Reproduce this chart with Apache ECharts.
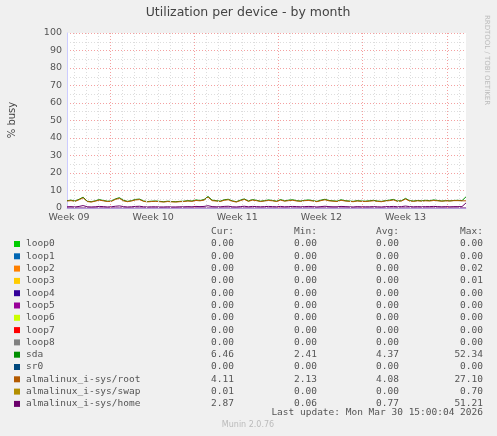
<!DOCTYPE html><html><head><meta charset="utf-8">
<script src="https://cdn.jsdelivr.net/npm/echarts@6/dist/echarts.min.js"></script>
<style>html,body{margin:0;background:#f0f0f0}#c{width:497px;height:436px}</style></head><body><div id="c"></div>
<script>
const weekLabels=['Week 09','Week 10','Week 11','Week 12','Week 13'];
const weekLabelPos=[0.17,7.17,14.17,21.17,28.17];
const redLines=[3.6,10.6,17.6,24.6,31.6];
const sda=[4.2,4.5,4.0,5.0,6.2,3.9,3.6,4.1,4.8,4.3,3.9,4.0,5.2,5.9,4.4,3.8,4.2,4.9,5.1,4.0,
3.7,3.9,4.0,3.8,3.6,3.9,3.7,3.6,3.8,3.9,4.2,4.0,4.6,4.3,4.8,6.6,4.5,4.2,3.9,4.7,
5.0,4.1,3.6,4.5,5.2,4.0,4.8,4.4,3.9,4.2,4.6,4.3,3.9,4.8,4.1,4.5,4.7,4.2,4.0,4.4,
4.6,4.2,3.8,4.5,5.0,4.3,4.1,3.9,4.7,4.2,4.0,3.8,4.2,4.0,3.9,4.1,4.4,4.0,3.8,4.2,
4.5,4.9,4.0,4.2,5.5,4.2,4.0,4.3,4.1,4.4,4.2,4.6,4.3,4.0,4.2,4.1,4.3,4.4,4.2,6.4];
const root=[4.0,4.2,3.8,4.7,5.8,3.7,3.4,3.9,4.5,4.1,3.7,3.8,4.9,5.5,4.1,3.6,4.0,4.6,4.8,3.8,
3.5,3.7,3.8,3.6,3.4,3.7,3.5,3.4,3.6,3.7,4.0,3.8,4.3,4.1,4.5,6.2,4.2,4.0,3.7,4.4,
4.7,3.9,3.4,4.2,4.9,3.8,4.5,4.2,3.7,4.0,4.3,4.1,3.7,4.5,3.9,4.2,4.4,4.0,3.8,4.2,
4.3,4.0,3.6,4.2,4.7,4.1,3.9,3.7,4.4,4.0,3.8,3.6,4.0,3.8,3.7,3.9,4.1,3.8,3.6,4.0,
4.2,4.6,3.8,4.0,5.1,4.0,3.8,4.1,3.9,4.1,4.0,4.3,4.1,3.9,4.1,4.0,4.2,4.2,4.1,4.1];
const home=[0.7,0.8,0.6,0.9,1.4,0.7,0.6,0.7,0.9,0.8,0.6,0.7,1.0,1.2,0.8,0.6,0.7,0.9,1.0,0.7,
0.6,0.7,0.7,0.6,0.6,0.7,0.6,0.6,0.7,0.7,0.8,0.7,0.9,0.8,0.9,1.3,0.8,0.7,0.7,0.9,
1.0,0.7,0.6,0.8,1.0,0.7,0.9,0.8,0.7,0.8,0.9,0.8,0.7,0.9,0.7,0.8,0.9,0.8,0.7,0.8,
0.9,0.8,0.6,0.8,1.0,0.8,0.7,0.7,0.9,0.8,0.7,0.6,0.8,0.7,0.7,0.7,0.8,0.7,0.6,0.8,
0.8,0.9,0.7,0.8,1.1,0.8,0.7,0.8,0.7,0.8,0.8,0.9,0.8,0.7,0.8,0.7,0.8,0.8,0.8,2.9];
const names=['loop0','loop1','loop2','loop3','loop4','loop5','loop6','loop7','loop8','sda','sr0','almalinux_i-sys/root','almalinux_i-sys/swap','almalinux_i-sys/home'];
const colors=['#00cc00','#0066b3','#ff8000','#ffcc00','#330099','#990099','#ccff00','#ff0000','#808080','#008f00','#00487d','#b35a00','#b38f00','#6b006b'];
const cur=['0.00','0.00','0.00','0.00','0.00','0.00','0.00','0.00','0.00','6.46','0.00','4.11','0.01','2.87'];
const mins=['0.00','0.00','0.00','0.00','0.00','0.00','0.00','0.00','0.00','2.41','0.00','2.13','0.00','0.06'];
const avgs=['0.00','0.00','0.00','0.00','0.00','0.00','0.00','0.00','0.00','4.37','0.00','4.08','0.00','0.77'];
const maxs=['0.00','0.00','0.02','0.01','0.00','0.00','0.00','0.00','0.00','52.34','0.00','27.10','0.70','51.21'];
const XMAX=33.2, step=XMAX/99;
const pts=a=>a.map((v,i)=>[i*step,v]);
const grayLines=[];for(let d=0.6;d<XMAX;d+=1){if(!redLines.some(r=>Math.abs(r-d)<0.01))grayLines.push({xAxis:d});}
const mono='DejaVu Sans Mono';
const g=[];
const txt=(x,y,t,o)=>g.push(Object.assign({type:'text',x,y,style:Object.assign({text:t,font:'9.5px '+mono,fill:'#555',textVerticalAlign:'middle'},o||{})}));
txt(234,232,'Cur:',{textAlign:'right'});txt(317,232,'Min:',{textAlign:'right'});txt(399,232,'Avg:',{textAlign:'right'});txt(483,232,'Max:',{textAlign:'right'});
names.forEach((n,i)=>{const y=244+i*12.3;
g.push({type:'rect',shape:{x:14,y:y-3,width:6,height:6},style:{fill:colors[i]}});
txt(26,y,n);txt(234,y,cur[i],{textAlign:'right'});txt(317,y,mins[i],{textAlign:'right'});txt(399,y,avgs[i],{textAlign:'right'});txt(483,y,maxs[i],{textAlign:'right'});});
txt(483,413,'Last update: Mon Mar 30 15:00:04 2026',{textAlign:'right'});
g.push({type:'text',x:248,y:425,style:{text:'Munin 2.0.76',font:'8px DejaVu Sans',fill:'#bbb',textAlign:'center',textVerticalAlign:'middle'}});
g.push({type:'text',x:248,y:13,style:{text:'Utilization per device - by month',font:'12.5px DejaVu Sans',fill:'#444',textAlign:'center',textVerticalAlign:'middle'}});
g.push({type:'text',x:12,y:120,rotation:Math.PI/2,style:{text:'% busy',font:'10px DejaVu Sans',fill:'#444',textAlign:'center',textVerticalAlign:'middle'}});
g.push({type:'text',x:487,y:60,rotation:-Math.PI/2,style:{text:'RRDTOOL / TOBI OETIKER',font:'7px DejaVu Sans',fill:'#bbb',textAlign:'center',textVerticalAlign:'middle'}});
const ml=(data,color)=>({silent:true,symbol:'none',label:{show:false},lineStyle:{color,type:[1,2],width:1},data});
const chart=echarts.init(document.getElementById('c'));
chart.setOption({backgroundColor:'#f0f0f0',animation:false,
grid:{left:67,right:31,top:33,bottom:228,backgroundColor:'#fff',show:true,borderWidth:0},
xAxis:{type:'value',min:0,max:XMAX,splitLine:{show:false},axisTick:{show:false},
 axisLine:{lineStyle:{color:'#ccccff'}},
 axisLabel:{customValues:weekLabelPos,formatter:v=>{const i=weekLabelPos.findIndex(p=>Math.abs(p-v)<0.01);return i>=0?weekLabels[i]:'';},color:'#555',fontFamily:'DejaVu Sans',fontSize:9.5,margin:5}},
yAxis:{type:'value',min:0,max:100,interval:10,axisLine:{show:true,lineStyle:{color:'#ccccff'}},axisTick:{show:false},
 axisLabel:{color:'#555',fontFamily:'DejaVu Sans',fontSize:9.5,margin:5},
 splitLine:{lineStyle:{color:'#f4a0a0',type:[1,2]}},minorTick:{show:false,splitNumber:2},minorSplitLine:{show:true,lineStyle:{color:'#dddddd',type:[1,2]}}},
series:[
{type:'line',data:pts(sda.map(()=>0)),symbol:'none',lineStyle:{width:1,color:'#6b006b'},markLine:ml(grayLines,'#dddddd')},
{type:'line',data:pts(sda),symbol:'none',lineStyle:{width:1,color:'#008f00'},markLine:ml(redLines.map(r=>({xAxis:r})),'#f4a0a0')},
{type:'line',data:pts(root),symbol:'none',lineStyle:{width:1,color:'#b35a00'}},
{type:'line',data:pts(home),symbol:'none',lineStyle:{width:1,color:'#6b006b'}}],
graphic:g});
</script></body></html>
